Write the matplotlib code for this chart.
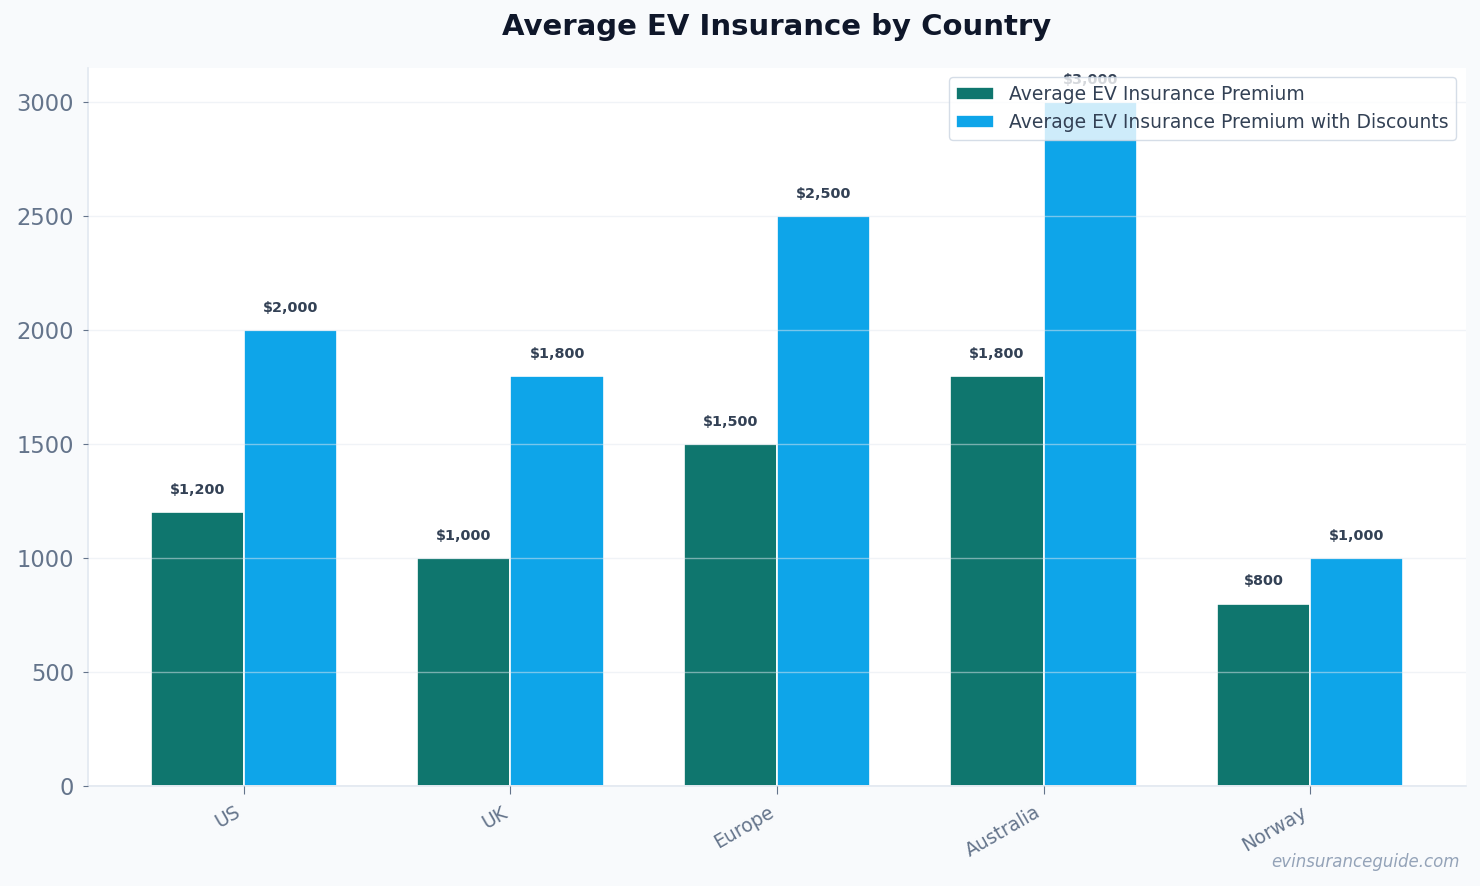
import numpy as np
import matplotlib.pyplot as plt

# data
countries = ["US", "UK", "Europe", "Australia", "Norway"]
premium = [1200, 1000, 1500, 1800, 800]
premium_disc = [2000, 1800, 2500, 3000, 1000]

green = "#0f766e"
blue = "#0ea5e9"

fig, ax = plt.subplots(figsize=(14.8, 8.86), dpi=100)
fig.patch.set_facecolor("#f8fafc")
ax.set_facecolor("white")

x = np.arange(len(countries))
w = 0.35
b1 = ax.bar(x - w/2, premium, w, color=green, edgecolor="white", linewidth=1.2,
            label="Average EV Insurance Premium")
b2 = ax.bar(x + w/2, premium_disc, w, color=blue, edgecolor="white", linewidth=1.2,
            label="Average EV Insurance Premium with Discounts")

for bars in (b1, b2):
    for r in bars:
        h = r.get_height()
        ax.annotate("${:,.0f}".format(h), (r.get_x() + r.get_width()/2, h),
                    xytext=(0, 11), textcoords="offset points",
                    ha="center", va="bottom", fontsize=10.4, fontweight="bold",
                    color="#334155")

ax.set_ylim(0, 3150)
ax.set_xticks(x)
ax.set_xticklabels(countries, rotation=30, ha="right", fontsize=13.5, color="#64748b")
ax.tick_params(axis="y", labelsize=16.3, labelcolor="#64748b", color="#64748b", pad=6.5)
ax.tick_params(axis="x", color="#64748b", length=6, pad=6)
ax.grid(axis="y", color="#e2e8f0", alpha=0.5, linewidth=1)
ax.set_axisbelow(False)

for s in ("top", "right"):
    ax.spines[s].set_visible(False)
for s in ("left", "bottom"):
    ax.spines[s].set_color("#e2e8f0")
    ax.spines[s].set_linewidth(1.2)

ax.set_title("Average EV Insurance by Country", fontsize=21, fontweight="bold",
             color="#0f172a", pad=24)

leg = ax.legend(loc="upper right", fontsize=13.5, framealpha=0.8,
                edgecolor="#cbd5e1", borderaxespad=0,
                bbox_to_anchor=(0.9928, 0.9875))
leg.set_zorder(10)
for t in leg.get_texts():
    t.set_color("#334155")

fig.text(0.986, 0.027, "evinsuranceguide.com", ha="right", va="center",
         fontsize=12, style="italic", color="#94a3b8")

plt.subplots_adjust(left=0.0595, right=0.9905, top=0.923, bottom=0.113)
plt.savefig("out.png", facecolor=fig.get_facecolor())
